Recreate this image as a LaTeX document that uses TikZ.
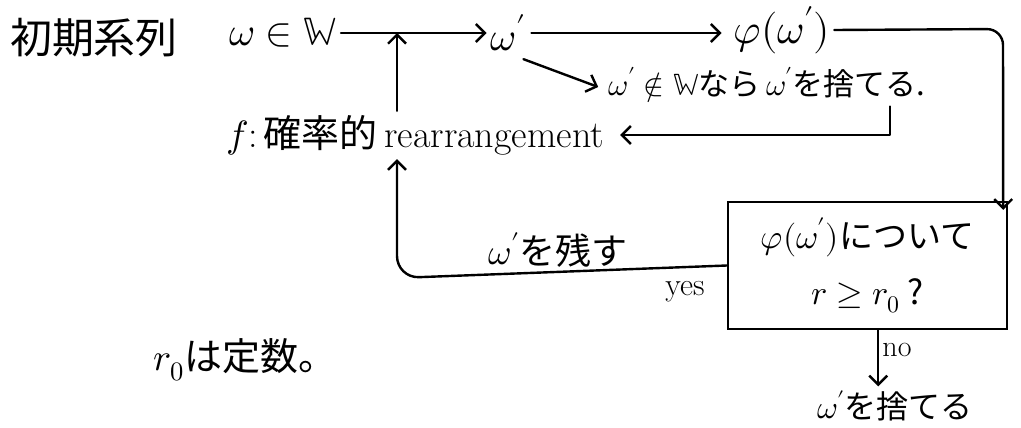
\documentclass[tikz,border=0pt]{standalone}
\usepackage{fontspec}
\usepackage{unicode-math}
\setmathfont{Latin Modern Math}
\newfontfamily\jp{Noto Sans CJK JP}
\usetikzlibrary{arrows.meta}
\newcommand\fsz[1]{\fontsize{#1}{#1}\selectfont}
\tikzset{
  txt/.style={inner sep=4pt, anchor=center},
  arr/.style={line width=2.4pt, line cap=round, line join=round, -{Straight Barb[length=9pt,width=18pt,line width=2.4pt]}},
  decbox/.style={draw, line width=2.4pt, minimum width=279pt, minimum height=127pt, inner sep=0pt, align=center},
}
\begin{document}
\begin{tikzpicture}[x=1pt,y=-1pt]
\useasboundingbox (0,0) rectangle (1021,428);
% nodes
\node[txt] (init) at (94,38) {\jp\fsz{42}初期系列};
\node[txt] (w) at (283,33) {\fsz{40}$\omega\in\mathbb{W}$};
\node[txt] (wp) at (508,33) {\fsz{40}$\omega'$};
\node[txt] (phi) at (782,30) {\fsz{42}$\varphi(\omega')$};
\node[txt] (notin) at (767,85) {\jp\fsz{31}$\omega'\notin\mathbb{W}$なら\,$\omega'$を捨てる.};
\node[txt] (f) at (415,135) {\fsz{38}$f$:\,{\jp 確率的}\,rearrangement};
\node[decbox, font={\jp\fontsize{34}{56}\selectfont}] (box) at (867.5,265.5) {$\varphi(\omega')$について\\ $r\geq r_0$ ?};
\node[txt] (keep) at (558,250) {\jp\fsz{36}$\omega'$を残す};
\node[txt] (yes) at (685,292) {\fsz{32}yes};
\node[txt] (no) at (897,350) {\fsz{30}no};
\node[txt] (discard) at (895,406) {\jp\fsz{32}$\omega'$を捨てる};
\node[txt] (r0) at (245,360) {\jp\fsz{38}$r_0$は定数。};
% junction coordinates
\coordinate (j1) at (397,33);
\coordinate (c1) at (1003,29);
\coordinate (c2) at (397,278);
% connectors
\draw[arr] (w.east |- j1) -- (wp.west |- j1);
\draw[arr] (f.north -| j1) -- (j1);
\draw[arr] ([xshift=2pt]wp.east |- j1) -- ([xshift=-8pt]phi.west |- j1);
\draw[arr] ([xshift=-6pt,yshift=-4pt]wp.south east) -- ([xshift=-6pt,yshift=-2pt]notin.west);
\draw[arr] ([xshift=-40pt]notin.south east) |- ([xshift=12pt]f.east);
\draw[arr, rounded corners=16pt] (phi.east) -- (c1) -- ([xshift=-5pt,yshift=-9pt]box.north east);
\draw[arr, rounded corners=22pt] (box.west) -- (c2) -- (f.south -| c2);
\draw[arr] (box.south -| no.west) -- (discard.north -| no.west);
\end{tikzpicture}
\end{document}
